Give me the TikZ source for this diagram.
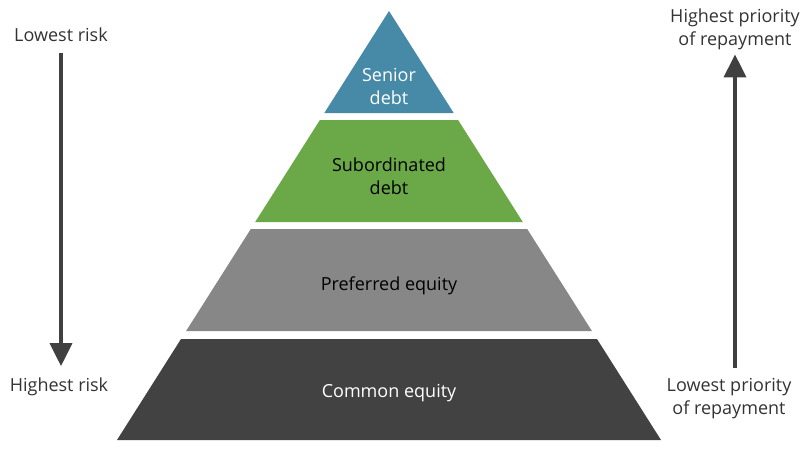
\documentclass[tikz,border=0pt]{standalone}
\usepackage{fontspec}
\setmainfont{Open Sans}
\usetikzlibrary{arrows.meta}
\definecolor{seniorblue}{RGB}{70,138,168}
\definecolor{subgreen}{RGB}{106,168,72}
\definecolor{prefgray}{RGB}{135,135,135}
\definecolor{commondark}{RGB}{66,66,66}
\definecolor{labelgray}{RGB}{51,51,51}
\definecolor{arrowgray}{RGB}{64,64,64}

\begin{document}
\begin{tikzpicture}[x=1pt, y=-1pt,
  layer/.style={font=\fontsize{18}{23}\selectfont, align=center, inner sep=0pt},
  side/.style={font=\fontsize{18}{23}\selectfont, align=center, inner sep=0pt, text=labelgray},
  riskarrow/.style={line width=3.5pt, draw=arrowgray,
                    -{Triangle[length=23pt, width=22pt]}},
]
  \useasboundingbox (0,0) rectangle (800,450);

  % Pyramid layers
  \fill[seniorblue] (389,11) -- (453.7,113) -- (324.3,113) -- cycle;
  \fill[subgreen]   (319.9,120) -- (458.1,120) -- (522.8,222) -- (255.2,222) -- cycle;
  \fill[prefgray]   (250.8,229) -- (527.2,229) -- (591.9,331) -- (186.1,331) -- cycle;
  \fill[commondark] (181,339) -- (597,339) -- (661,440) -- (117,440) -- cycle;

  % Layer labels
  \node[layer, text=white] (senior) at (389,86)  {Senior\\debt};
  \node[layer]             (sub)    at (389,176) {Subordinated\\debt};
  \node[layer]             (pref)   at (389,286) {Preferred equity};
  \node[layer, text=white] (common) at (389,393) {Common equity};

  % Risk scale
  \node[side, anchor=base] (lowrisk)  at (61,41)  {Lowest risk};
  \node[side, anchor=base] (highrisk) at (59,391) {Highest risk};
  \draw[riskarrow, shorten <=12pt, shorten >=11pt]
    (lowrisk.south) -- (lowrisk.south |- highrisk.north);

  % Repayment scale
  \node[side, anchor=north] (hiprio)  at (735,9)   {Highest priority\\of repayment};
  \node[side, anchor=north] (lowprio) at (729,378) {Lowest priority\\of repayment};
  \draw[riskarrow, shorten <=10pt, shorten >=4pt]
    (lowprio.north -| hiprio.south) -- (hiprio.south);
\end{tikzpicture}
\end{document}
